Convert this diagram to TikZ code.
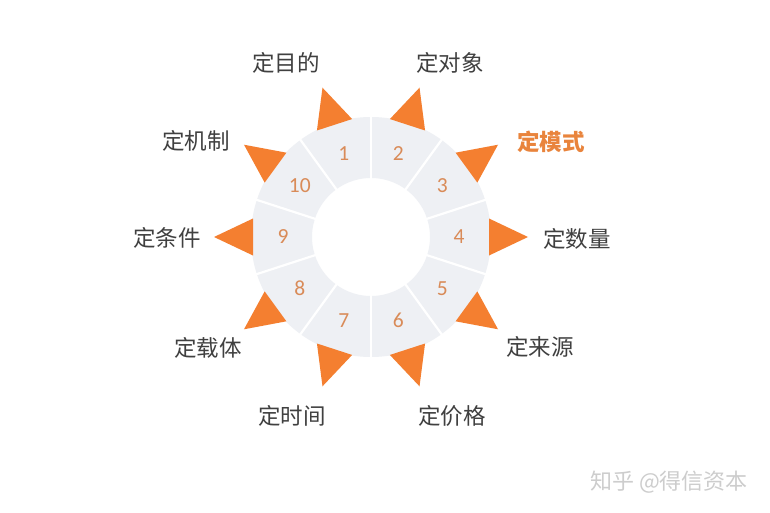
\documentclass[tikz,border=0pt]{standalone}
\usepackage{fontspec}
\setmainfont{Carlito}
\newfontfamily\cjk{Noto Sans CJK SC}
\definecolor{ringfill}{HTML}{EEF0F4}
\definecolor{arroworange}{HTML}{F47F30}
\definecolor{numorange}{HTML}{D98B58}
\definecolor{labelgray}{HTML}{404040}
\definecolor{labelorange}{HTML}{E9843C}
\definecolor{wmgray}{HTML}{CDCDCD}
\tikzset{
  numlabel/.style={text=numorange, font=\fontsize{21.5}{21.5}\selectfont, inner sep=0pt},
  outlabel/.style={text=labelgray, font=\cjk\fontsize{22.5}{22.5}\selectfont, inner sep=0pt},
  hilabel/.style={text=labelorange, font=\cjk\bfseries\fontsize{22.5}{22.5}\selectfont, inner sep=0pt},
  arrowtri/.style={fill=arroworange},
  gapline/.style={draw=white, line width=2.2pt},
}
\begin{document}
\begin{tikzpicture}[x=1pt,y=-1pt]
\useasboundingbox (0,0) rectangle (770,513);
\fill[white] (0,0) rectangle (770,513);
\coordinate (c) at (371,237);
\begin{scope}[shift={(371,237)},y=1pt]
  \fill[ringfill, even odd rule] (0,0) circle[radius=120pt] (0,0) circle[radius=59pt];
  \foreach \b in {90,54,18,-18,-54,-90,-126,-162,-198,-234}
    \draw[gapline] (\b:56) -- (\b:123);
  \foreach \i in {1,...,10} {
    \pgfmathsetmacro{\a}{108-36*(\i-1)}
    \node[numlabel] (n\i) at (\a:88) {\i};
    \fill[arrowtri, rotate=\a] (118,18.5) -- (157,0) -- (118,-18.5) -- cycle;
  }
\end{scope}
\node[outlabel] (l1) at (286,63) {定目的};
\node[outlabel] (l2) at (450,63) {定对象};
\node[hilabel] (l3) at (551,142) {定模式};
\node[outlabel] (l4) at (577,239) {定数量};
\node[outlabel] (l5) at (540,347) {定来源};
\node[outlabel] (l6) at (452,416) {定价格};
\node[outlabel] (l7) at (292,416) {定时间};
\node[outlabel] (l8) at (208,348) {定载体};
\node[outlabel] (l9) at (167,238) {定条件};
\node[outlabel] (l10) at (196,141) {定机制};
\node[text=wmgray, font=\cjk\fontsize{22}{22}\selectfont, inner sep=0pt] (wm) at (669,482) {知乎 @得信资本};
\end{tikzpicture}
\end{document}
